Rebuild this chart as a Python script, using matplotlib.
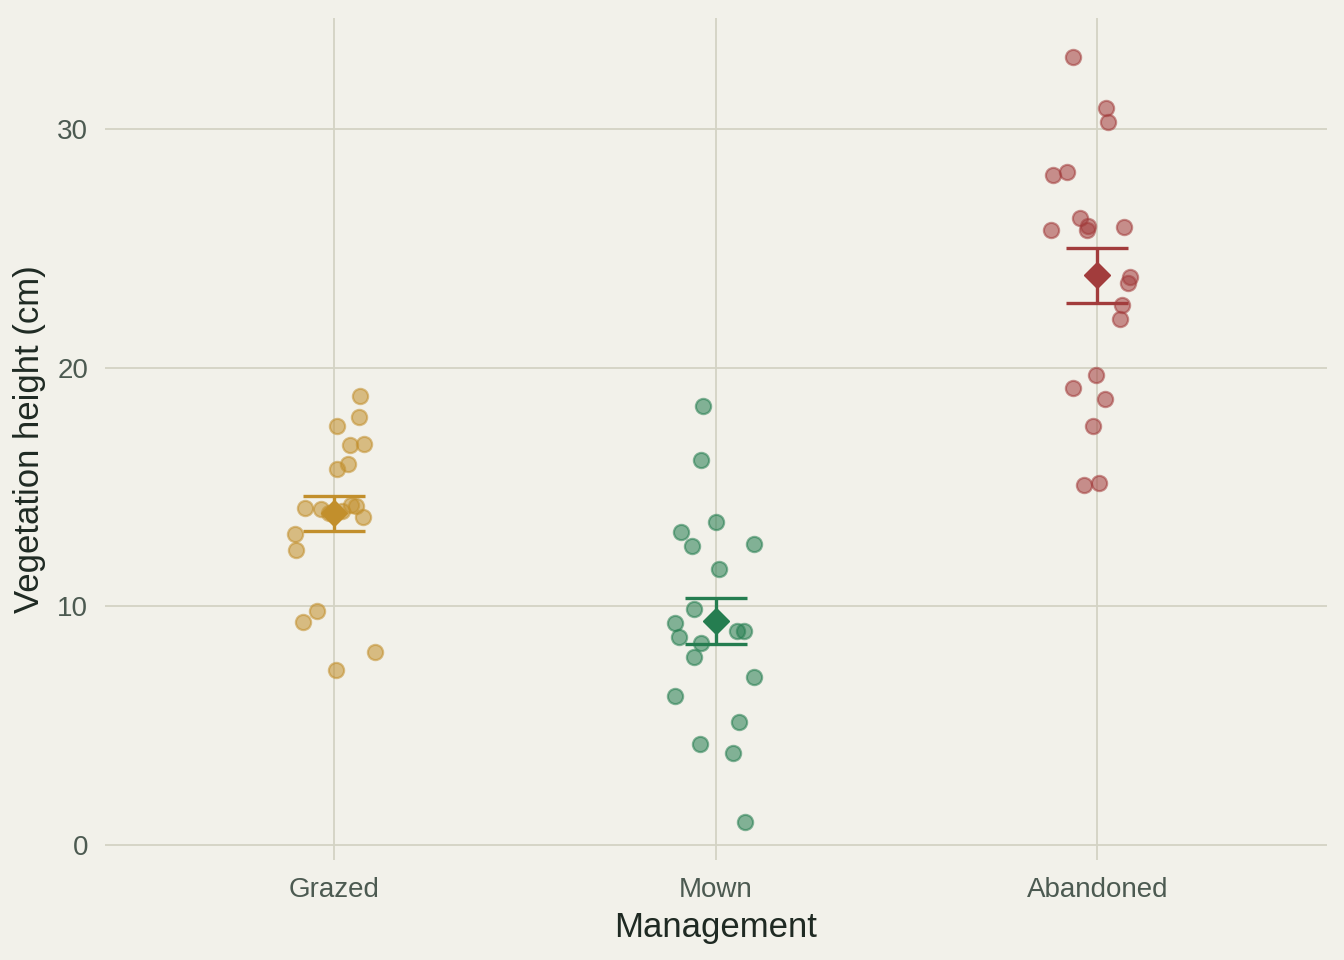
import matplotlib.pyplot as plt
import numpy as np

plt.rcParams.update({
    "font.family": ["Liberation Sans", "DejaVu Sans"],
    "figure.dpi": 100,
})

# ── datos ──
categorias = ["Grazed", "Mown", "Abandoned"]

grazed = [18.80, 17.94, 17.56, 16.77, 16.80, 15.94, 15.73, 14.11, 14.06, 13.97,
          14.25, 14.20, 13.74, 13.01, 12.37, 9.80, 9.34, 8.08, 7.34, 13.90]
grazed_jit = [0.068, 0.065, 0.008, 0.042, 0.078, 0.036, 0.008, -0.077, -0.035, 0.020,
              0.045, 0.059, 0.075, -0.103, -0.100, -0.044, -0.082, 0.108, 0.006, -0.012]

mown = [18.40, 16.13, 13.53, 13.12, 12.52, 12.59, 11.56, 9.87, 9.29, 8.72,
        8.46, 8.97, 8.97, 7.87, 7.01, 6.24, 5.13, 4.21, 3.86, 0.96]
mown_jit = [-0.034, -0.038, 0.002, -0.092, -0.062, 0.101, 0.010, -0.058, -0.107, -0.095,
            -0.039, 0.055, 0.074, -0.058, 0.101, -0.106, 0.060, -0.041, 0.045, 0.077]

abandoned = [33.04, 30.89, 30.29, 28.08, 28.22, 26.28, 25.93, 25.79, 25.77, 25.88,
             23.82, 23.53, 22.62, 22.02, 19.71, 19.13, 18.70, 17.56, 15.07, 15.15]
abandoned_jit = [-0.065, 0.023, 0.027, -0.116, -0.079, -0.047, -0.024, -0.027, -0.121, 0.069,
                 0.085, 0.081, 0.064, 0.058, -0.004, -0.064, 0.021, -0.012, -0.034, 0.004]

grupos = [grazed, mown, abandoned]
jitters = [grazed_jit, mown_jit, abandoned_jit]
colores = ["#c28f2c", "#257d50", "#a23c3c"]

FONDO = "#f2f1ea"
REJILLA = "#d3d3c4"

fig = plt.figure(figsize=(13.44, 9.6), facecolor=FONDO)
ax = fig.add_axes([0.078, 0.104, 0.909, 0.877], facecolor=FONDO)

for i, (vals, jit, col) in enumerate(zip(grupos, jitters, colores)):
    vals = np.array(vals)
    xs = i + np.array(jit)
    ax.scatter(xs, vals, s=120, color=col, alpha=0.55,
               edgecolors=col, linewidths=1.6, zorder=3)
    media = vals.mean()
    se = vals.std(ddof=1) / np.sqrt(len(vals))
    ax.errorbar(i, media, yerr=se, fmt="none", ecolor=col,
                elinewidth=2.4, capsize=22, capthick=2.4, zorder=4)
    ax.plot(i, media, marker="D", markersize=13, color=col,
            markeredgecolor=col, zorder=5)

ax.set_xlim(-0.6, 2.6)
ax.set_ylim(-0.65, 34.65)
ax.set_xticks(range(len(categorias)))
ax.set_xticklabels(categorias)
ax.set_yticks([0, 10, 20, 30])

ax.grid(True, color=REJILLA, linewidth=1.3)
ax.set_axisbelow(True)
for s in ax.spines.values():
    s.set_visible(False)
ax.tick_params(axis="both", length=0, labelsize=20, labelcolor="#4c5a51")
ax.tick_params(axis="x", pad=12)
ax.tick_params(axis="y", pad=12)

ax.set_xlabel("Management", fontsize=25, color="#1f2a23", labelpad=6)
ax.set_ylabel("Vegetation height (cm)", fontsize=25, color="#1f2a23", labelpad=8)

fig.savefig("out.png", dpi=100, facecolor=FONDO)
